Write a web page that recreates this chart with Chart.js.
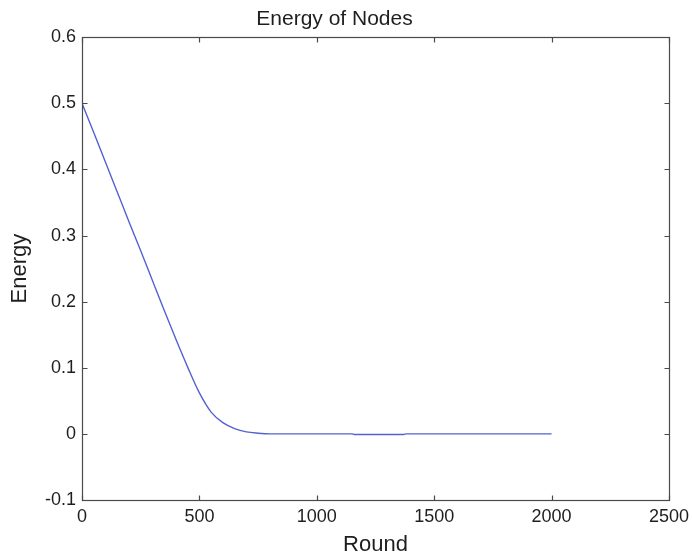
<!DOCTYPE html>
<html lang="en">
<head>
    <meta charset="UTF-8">
    <title>Energy of Nodes</title>
    <script src="https://cdn.jsdelivr.net/npm/chart.js@4.4.0/dist/chart.umd.min.js"></script>
    <style>
        html, body { margin: 0; padding: 0; background: #fff; }
        #wrap { width: 692px; height: 560px; }
    </style>
</head>
<body>
<div id="wrap"><canvas id="energyChart"></canvas></div>

<script>
// Remaining energy per round
const rounds = [0, 50, 100, 150, 200, 250, 300, 350, 400, 450, 500, 550, 600, 650, 700, 750, 800, 1150, 1160, 1370, 1380, 2000];
const energy = [0.5, 0.456, 0.411, 0.366, 0.321, 0.277, 0.232, 0.187, 0.143, 0.101, 0.062, 0.033, 0.017, 0.008, 0.003, 0.001, 0, 0, -0.001, -0.001, 0, 0];

// Axis ticks
const xTicks = [0, 500, 1000, 1500, 2000, 2500];
const yTicks = [-0.1, 0, 0.1, 0.2, 0.3, 0.4, 0.5, 0.6];

const axisColor = '#4a4a4a';
const textColor = '#1e1e1e';
const fontFamily = '"Liberation Sans", Arial, Helvetica, sans-serif';

// box around the plot with inward tick marks on all four sides
const boxPlugin = {
    id: 'boxPlugin',
    afterDraw(chart) {
        const { ctx, chartArea: a, scales } = chart;
        const L = Math.round(a.left) + 0.5, R = Math.round(a.right) + 0.5;
        const T = Math.round(a.top) + 0.5, B = Math.round(a.bottom) + 0.5;
        const len = 5;
        ctx.save();
        ctx.strokeStyle = axisColor;
        ctx.lineWidth = 1.2;
        ctx.strokeRect(L, T, R - L, B - T);
        ctx.beginPath();
        xTicks.forEach(v => {
            const px = Math.round(scales.x.getPixelForValue(v)) + 0.5;
            ctx.moveTo(px, B); ctx.lineTo(px, B - len);
            ctx.moveTo(px, T); ctx.lineTo(px, T + len);
        });
        yTicks.forEach(v => {
            const py = Math.round(scales.y.getPixelForValue(v)) + 0.5;
            ctx.moveTo(L, py); ctx.lineTo(L + len, py);
            ctx.moveTo(R, py); ctx.lineTo(R - len, py);
        });
        ctx.stroke();
        ctx.restore();
    }
};

new Chart(document.getElementById('energyChart'), {
    type: 'line',
    data: {
        datasets: [{
            data: rounds.map((r, i) => ({ x: r, y: energy[i] })),
            borderColor: 'rgb(84, 98, 208)',
            borderWidth: 1.4,
            pointRadius: 0,
            fill: false,
            cubicInterpolationMode: 'monotone'
        }]
    },
    options: {
        responsive: true,
        maintainAspectRatio: false,
        animation: false,
        layout: { padding: { left: 0, right: 23, top: 0, bottom: 0 } },
        plugins: {
            legend: { display: false },
            tooltip: { enabled: false },
            title: {
                display: true,
                text: 'Energy of Nodes',
                color: textColor,
                font: { family: fontFamily, size: 21, weight: 'normal' },
                padding: { top: 7, bottom: 5 }
            }
        },
        scales: {
            x: {
                type: 'linear',
                min: 0,
                max: 2500,
                grid: { display: false, drawTicks: false },
                border: { display: false },
                afterBuildTicks: s => { s.ticks = xTicks.map(v => ({ value: v })); },
                afterFit: s => { s.height = 60; s.paddingRight = 0; s.paddingLeft = 0; },
                ticks: {
                    color: textColor,
                    padding: 6,
                    maxRotation: 0,
                    font: { family: fontFamily, size: 18 },
                    callback: v => String(v)
                },
                title: {
                    display: true,
                    text: 'Round',
                    color: textColor,
                    font: { family: fontFamily, size: 22 },
                    padding: { top: 0, bottom: 2 }
                }
            },
            y: {
                min: -0.1,
                max: 0.6,
                grid: { display: false, drawTicks: false },
                border: { display: false },
                afterBuildTicks: s => { s.ticks = yTicks.map(v => ({ value: v })); },
                afterFit: s => { s.width = 82; },
                ticks: {
                    color: textColor,
                    padding: 6,
                    font: { family: fontFamily, size: 18 },
                    callback: v => (Math.abs(v) < 1e-9 ? '0' : (+v).toFixed(1))
                },
                title: {
                    display: true,
                    text: 'Energy',
                    color: textColor,
                    font: { family: fontFamily, size: 22 },
                    padding: { top: 7, bottom: 0 }
                }
            }
        }
    },
    plugins: [boxPlugin]
});
</script>
</body>
</html>
